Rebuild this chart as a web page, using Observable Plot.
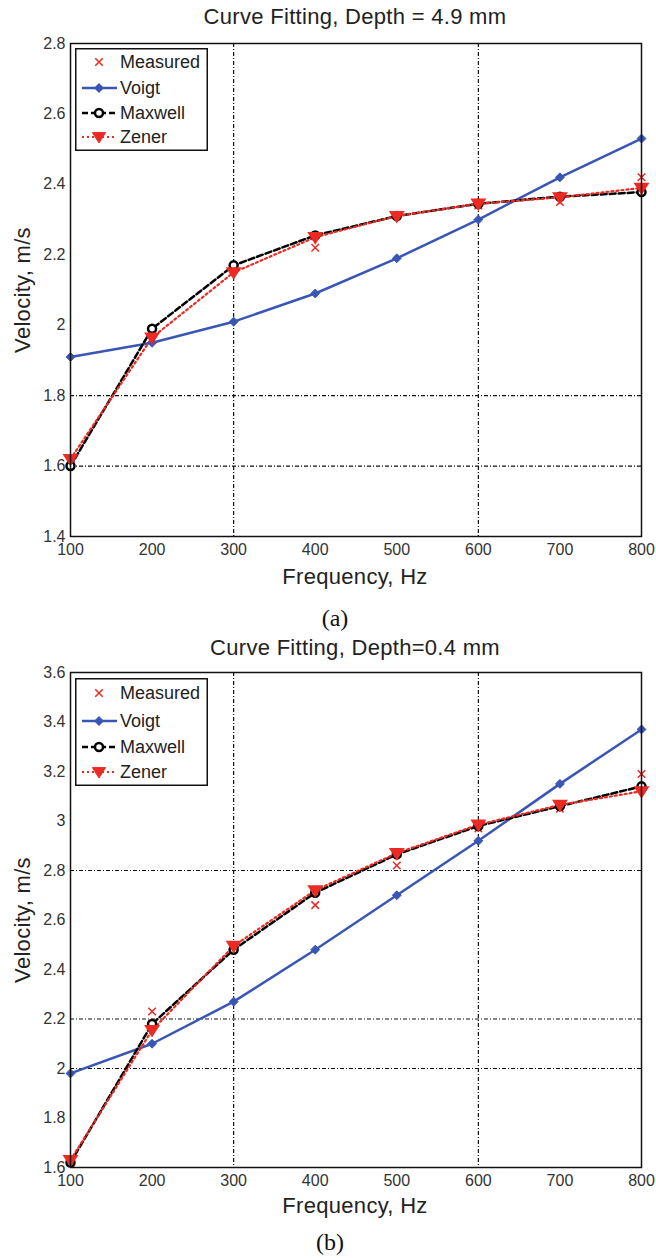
<!DOCTYPE html>
<html><head><meta charset="utf-8">
<script src="https://cdn.jsdelivr.net/npm/d3@7"></script>
<script src="https://cdn.jsdelivr.net/npm/@observablehq/plot@0.6"></script>
<style>
body{margin:0;background:#fff;}
#wrap{position:relative;width:656px;height:1258px;overflow:hidden;font-family:"Liberation Sans",Arial,sans-serif;color:#111;background:#fff;}
.abs{position:absolute;white-space:nowrap;transform:translate(-50%,-50%);line-height:1;}
.panel{position:absolute;left:0;}
.title,.xlab,.ylab{font-size:22px;color:#222;letter-spacing:0.3px;}
.ylab{transform:translate(-50%,-50%) rotate(-90deg);}
.cap{font-family:"Liberation Serif","DejaVu Serif",serif;font-size:24px;color:#111;}
</style></head><body><div id="wrap"></div>
<script>
// ---- data ----
const frequencies = [100, 200, 300, 400, 500, 600, 700, 800];
const seriesNames = ["Measured", "Voigt", "Maxwell", "Zener"];
const titles = ["Curve Fitting, Depth = 4.9 mm", "Curve Fitting, Depth=0.4 mm"];
const captions = ["(a)", "(b)"];
const xLabel = "Frequency, Hz";
const yLabel = "Velocity, m/s";

// panel (a)
const measuredA = [1.62, 1.96, 2.16, 2.22, 2.31, 2.34, 2.35, 2.42];
const voigtA    = [1.91, 1.95, 2.01, 2.09, 2.19, 2.30, 2.42, 2.53];
const maxwellA  = [1.60, 1.99, 2.17, 2.255, 2.31, 2.345, 2.365, 2.378];
const zenerA    = [1.62, 1.965, 2.15, 2.25, 2.31, 2.345, 2.363, 2.39];
const yTicksA = [1.4, 1.6, 1.8, 2.0, 2.2, 2.4, 2.6, 2.8];
const gridXA = [300, 600];
const gridYA = [1.6, 1.8];

// panel (b)
const measuredB = [1.62, 2.23, 2.49, 2.66, 2.82, 2.97, 3.05, 3.19];
const voigtB    = [1.98, 2.10, 2.27, 2.48, 2.70, 2.92, 3.15, 3.37];
const maxwellB  = [1.62, 2.18, 2.48, 2.71, 2.865, 2.98, 3.06, 3.14];
const zenerB    = [1.63, 2.155, 2.495, 2.72, 2.87, 2.985, 3.065, 3.12];
const yTicksB = [1.6, 1.8, 2.0, 2.2, 2.4, 2.6, 2.8, 3.0, 3.2, 3.4, 3.6];
const gridXB = [300, 600];
const gridYB = [2.0, 2.2, 2.8];

// ---- style ----
const BLUE = "#3a56b4";
const RED = "#ec2a24";
const FONT = "Liberation Sans, Arial, sans-serif";

const triDown = {
  draw(ctx, size) {
    const s = Math.sqrt(size / Math.PI);
    ctx.moveTo(-1.2 * s, -0.8 * s);
    ctx.lineTo(1.2 * s, -0.8 * s);
    ctx.lineTo(0, 1.1 * s);
    ctx.closePath();
  }
};

const wrap = document.getElementById("wrap");
function addText(cls, text, x, y) {
  const d = document.createElement("div");
  d.className = "abs " + cls;
  d.textContent = text;
  d.style.left = x + "px";
  d.style.top = y + "px";
  wrap.appendChild(d);
}

function makeLegend(left, top, w, h, rowYs) {
  const svg = d3.create("svg").attr("width", w).attr("height", h)
    .style("position", "absolute").style("left", left + "px").style("top", top + "px");
  svg.append("rect").attr("x", 0.75).attr("y", 0.75).attr("width", w - 1.5).attr("height", h - 1.5)
    .attr("fill", "#fff").attr("stroke", "#111").attr("stroke-width", 1.5);
  const sym = (type, r) => d3.symbol().type(type).size(Math.PI * r * r)();
  const diamond2 = {draw(ctx, size) { const s = Math.sqrt(size / Math.PI) * 1.2; ctx.moveTo(0, -s); ctx.lineTo(s, 0); ctx.lineTo(0, s); ctx.lineTo(-s, 0); ctx.closePath(); }};
  seriesNames.forEach((name, i) => {
    const y = rowYs[i];
    const g = svg.append("g");
    if (name === "Voigt") {
      g.append("line").attr("x1", 7).attr("x2", 42).attr("y1", y).attr("y2", y).attr("stroke", BLUE).attr("stroke-width", 2.5);
      g.append("path").attr("d", sym(diamond2, 4.2)).attr("transform", `translate(24,${y})`).attr("fill", BLUE);
    } else if (name === "Maxwell") {
      g.append("line").attr("x1", 7).attr("x2", 42).attr("y1", y).attr("y2", y).attr("stroke", "#000").attr("stroke-width", 2.5).attr("stroke-dasharray", "6,3");
      g.append("circle").attr("cx", 24).attr("cy", y).attr("r", 4).attr("fill", "#fff").attr("stroke", "#000").attr("stroke-width", 2.5);
    } else if (name === "Zener") {
      g.append("line").attr("x1", 7).attr("x2", 42).attr("y1", y).attr("y2", y).attr("stroke", RED).attr("stroke-width", 2).attr("stroke-dasharray", "2,3");
      g.append("path").attr("d", sym(triDown, 5.5)).attr("transform", `translate(24,${y})`).attr("fill", RED).attr("stroke", RED);
    } else {
      g.append("path").attr("d", sym(d3.symbolTimes, 3.5)).attr("transform", `translate(24,${y})`).attr("fill", "none").attr("stroke", RED).attr("stroke-width", 1.5);
    }
    svg.append("text").attr("x", 45).attr("y", y).attr("dy", "0.35em")
      .attr("font-family", FONT).attr("font-size", 18).attr("fill", "#222").text(name);
  });
  wrap.appendChild(svg.node());
}

function makePanel(p) {
  const rows = arr => frequencies.map((f, i) => ({f, v: arr[i]}));
  const chart = Plot.plot({
    width: 656, height: p.height,
    marginLeft: 70, marginRight: 15, marginTop: p.mt, marginBottom: p.mb,
    style: {fontFamily: FONT, fontSize: "16px", color: "#333", background: "transparent", overflow: "visible"},
    x: {domain: [100, 800]},
    y: {domain: p.ydom},
    marks: [
      Plot.ruleX(p.gridX, {stroke: "#111", strokeWidth: 1.2, strokeDasharray: "4,2,1,2"}),
      Plot.ruleY(p.gridY, {stroke: "#111", strokeWidth: 1.2, strokeDasharray: "4,2,1,2"}),
      Plot.line(rows(p.voigt), {x: "f", y: "v", stroke: BLUE, strokeWidth: 2.5}),
      Plot.line(rows(p.maxwell), {x: "f", y: "v", stroke: "#000", strokeWidth: 2.5, strokeDasharray: "6,3"}),
      Plot.line(rows(p.zener), {x: "f", y: "v", stroke: RED, strokeWidth: 2.2, strokeDasharray: "2,3"}),
      Plot.dot(rows(p.measured), {x: "f", y: "v", symbol: "times", stroke: RED, r: 3.5, strokeWidth: 1.5}),
      Plot.dot(rows(p.voigt), {x: "f", y: "v", symbol: "diamond2", fill: BLUE, stroke: BLUE, strokeWidth: 1, r: 4}),
      Plot.dot(rows(p.maxwell), {x: "f", y: "v", symbol: "circle", stroke: "#000", fill: "#fff", strokeWidth: 2.5, r: 4}),
      Plot.dot(rows(p.zener), {x: "f", y: "v", symbol: triDown, fill: RED, stroke: RED, r: 5.5}),
      Plot.axisX({ticks: frequencies, tickSize: 0, tickPadding: 7, label: null, tickFormat: d => String(d)}),
      Plot.axisY({ticks: p.yTicks, tickSize: 0, tickPadding: 5, label: null, tickFormat: d => String(+d.toFixed(1))}),
      Plot.frame({stroke: "#111", strokeWidth: 1.5})
    ]
  });
  chart.classList.add("panel");
  chart.style.top = p.top + "px";
  wrap.appendChild(chart);
}

// panel (a)
makePanel({top: 0, height: 600, mt: 43, mb: 64, ydom: [1.4, 2.8], yTicks: yTicksA,
  gridX: gridXA, gridY: gridYA, measured: measuredA, voigt: voigtA, maxwell: maxwellA, zener: zenerA});
addText("title", titles[0], 355, 17);
addText("xlab", xLabel, 355, 577);
addText("ylab", yLabel, 23, 290);
addText("cap", captions[0], 335, 618);
makeLegend(75, 48, 133, 103, [14, 40, 65, 89]);

// panel (b)
makePanel({top: 620, height: 600, mt: 52, mb: 53, ydom: [1.6, 3.6], yTicks: yTicksB,
  gridX: gridXB, gridY: gridYB, measured: measuredB, voigt: voigtB, maxwell: maxwellB, zener: zenerB});
addText("title", titles[1], 355, 648);
addText("xlab", xLabel, 355, 1206);
addText("ylab", yLabel, 23, 920);
addText("cap", captions[1], 330, 1242);
makeLegend(75, 678, 133, 108, [15, 43, 69, 94]);
</script></body></html>
